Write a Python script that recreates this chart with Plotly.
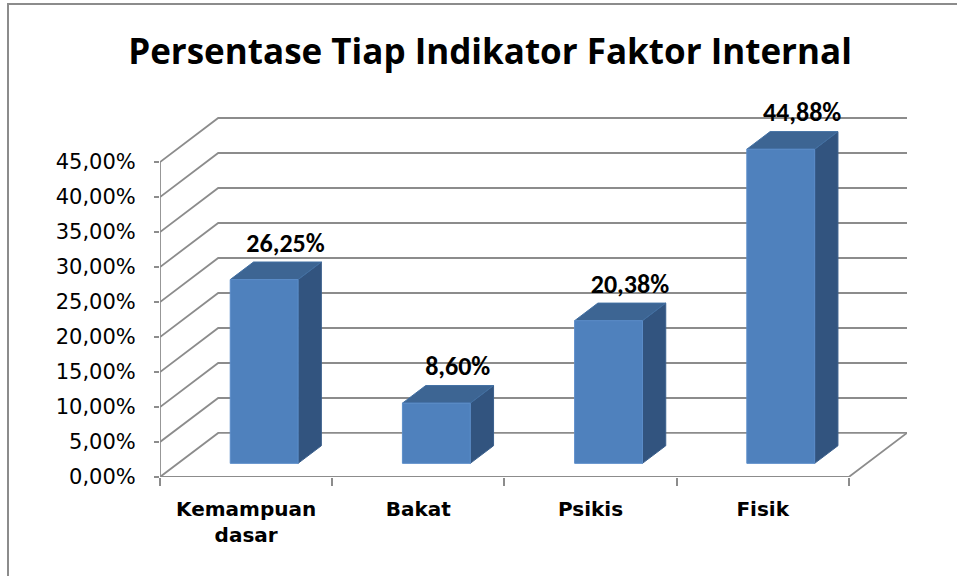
import plotly.graph_objects as go

categories = ["Kemampuan<br>dasar", "Bakat", "Psikis", "Fisik"]
values = [26.25, 8.60, 20.38, 44.88]
y_ticks = [0, 5, 10, 15, 20, 25, 30, 35, 40, 45]
y_tick_labels = [f"{t:.2f}".replace(".", ",") + "%" for t in y_ticks]
value_labels = [f"{v:.2f}".replace(".", ",") + "%" for v in values]
title = "Persentase Tiap Indikator Faktor Internal"

# 3D projection parameters (depth vector in axis units)
DX = 0.338   # category units per full depth
DY = 6.29    # percent units per full depth
D0, D1 = 0.31, 0.71       # bar depth range
BW = 0.394               # bar width in category units
N = len(categories)

# pixel layout
W, H = 957, 576
PL, PR, PB, PT = 160, 907, 477, 90      # plot area edges (px)
PXPU = 359 / (y_ticks[-1] + DY)          # px per percent unit
Y_TOP = (PB - PT) / PXPU

TICK_FONT = "DejaVu Sans"
CAT_FONT = "DejaVu Sans"
LABEL_FONT = "Carlito, Calibri, Lato, sans-serif"
TITLE_FONT = "Open Sans"
GRID = "#8c8c8c"
FRONT = "#4f81bd"
TOP = "#3d6593"
SIDE = "#32547f"

fig = go.Figure()

def line(xs, ys, color=GRID, width=1.8):
    fig.add_trace(go.Scatter(x=xs, y=ys, mode="lines", line=dict(color=color, width=width),
                             hoverinfo="skip", showlegend=False))

# walls / gridlines
for t in y_ticks:
    line([0, DX, N + DX], [t, t + DY, t + DY])
# floor
line([0, N, N + DX], [0, 0, DY])
# front vertical axis line
line([0, 0], [0, y_ticks[-1]])

def poly(xs, ys, fill, edge):
    fig.add_trace(go.Scatter(x=xs + [xs[0]], y=ys + [ys[0]], mode="lines", fill="toself",
                             fillcolor=fill, line=dict(color=edge, width=1),
                             hoverinfo="skip", showlegend=False))

for i, v in enumerate(values):
    xl = i + 0.5 - BW / 2
    xr = i + 0.5 + BW / 2
    fx0, fx1 = xl + D0 * DX, xr + D0 * DX
    fy0 = D0 * DY
    bx0, bx1 = xl + D1 * DX, xr + D1 * DX
    by0 = D1 * DY
    # side
    poly([fx1, bx1, bx1, fx1], [fy0, by0, by0 + v, fy0 + v], SIDE, "#3a5f8c")
    # top
    poly([fx0, fx1, bx1, bx0], [fy0 + v, fy0 + v, by0 + v, by0 + v], TOP, "#4270a3")
    # front
    poly([fx0, fx1, fx1, fx0], [fy0, fy0, fy0 + v, fy0 + v], FRONT, "#5b8dc9")

# data labels
fig.add_trace(go.Scatter(
    x=[i + 0.5 + 0.229 for i in range(N)],
    y=[v + D1 * DY + 2.4 for v in values],
    mode="text", text=["<b>" + t + "</b>" for t in value_labels], textposition="middle center",
    textfont=dict(family=LABEL_FONT, size=26, color="#000000"),
    hoverinfo="skip", showlegend=False, cliponaxis=False))

plot_w = PR - PL
plot_h = PB - PT
fig.update_layout(
    width=W, height=H,
    margin=dict(l=PL, r=W - PR, t=PT, b=H - PB),
    paper_bgcolor="white", plot_bgcolor="white",
    font=dict(family=TICK_FONT, color="#000000"),
    title=dict(text="<b>" + title + "</b>", x=(490 - PL) / plot_w, xref="paper", xanchor="center",
               y=1 - 52 / H, yanchor="middle",
               font=dict(family=TITLE_FONT, size=35, color="#000000")),
    xaxis=dict(range=[0, N + DX], showgrid=False, zeroline=False, showline=False,
               tickvals=[i + 0.5 for i in range(N)], ticktext=["<b>" + c + "</b>" for c in categories],
               ticks="", tickfont=dict(family=CAT_FONT, size=20, color="#000000"),
               ticklabelstandoff=18,
               minor=dict(tickvals=list(range(N + 1)), ticks="outside", ticklen=8,
                          tickcolor=GRID, tickwidth=1.8, showgrid=False)),
    yaxis=dict(range=[0, Y_TOP], showgrid=False, zeroline=False, showline=False,
               tickvals=y_ticks, ticktext=y_tick_labels, ticks="outside", ticklen=5,
               tickcolor=GRID, tickwidth=1.8,
               tickfont=dict(family=TICK_FONT, size=21, color="#000000"),
               ticklabelstandoff=14),
    shapes=[dict(type="rect", xref="paper", yref="paper",
                 x0=(8 - PL) / plot_w, x1=1.2, y0=-0.4, y1=(PB - 4) / plot_h,
                 line=dict(color="#8c8c8c", width=2), layer="below")],
)

fig.write_html("out.html", config={"displayModeBar": False},
               post_script="document.body.style.margin='0';")
